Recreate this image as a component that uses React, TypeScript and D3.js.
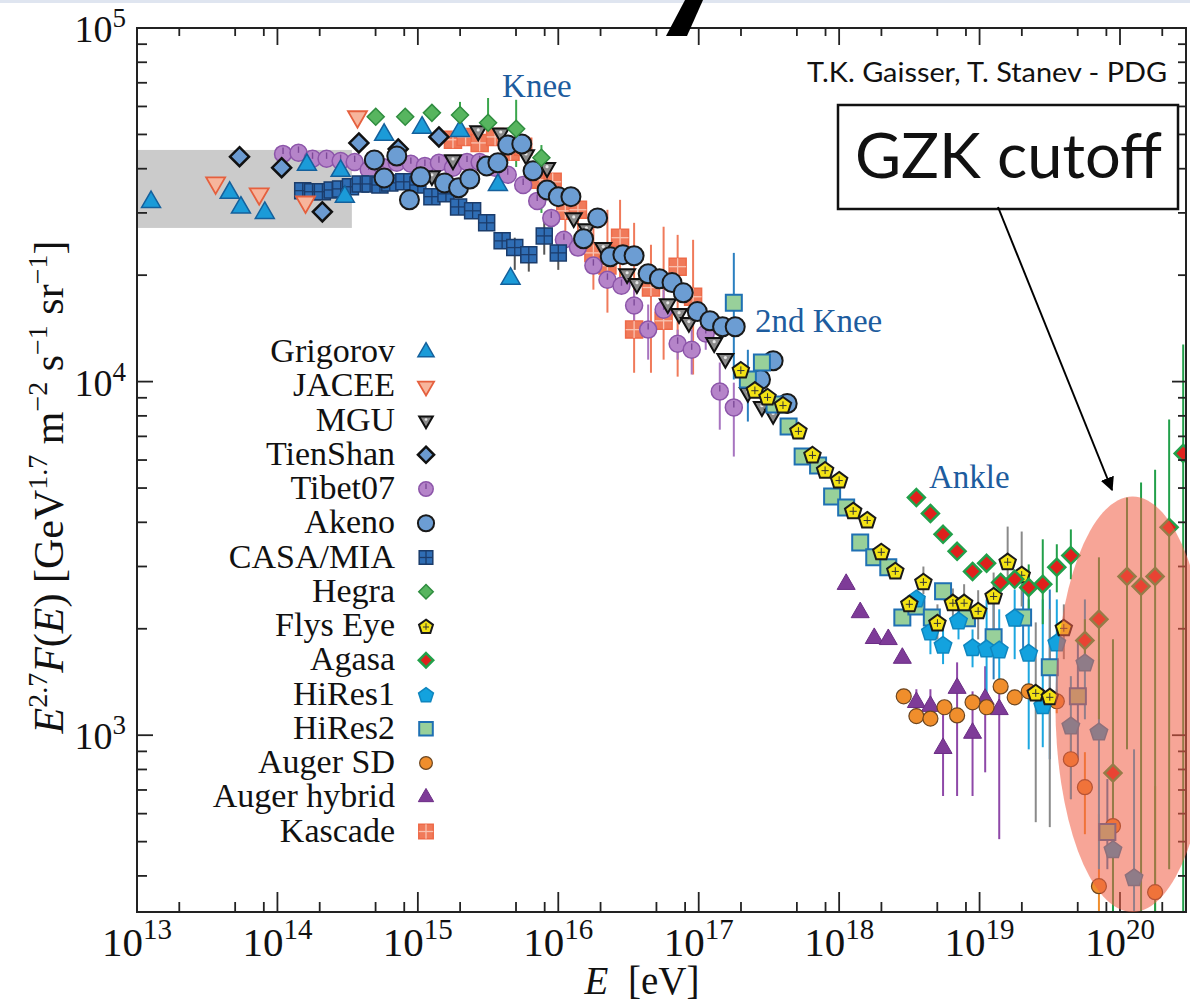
import React from 'react';
import * as d3 from 'd3';

// Each point: [log10(E / eV), log10(E^2.7 F), optional errLow, optional errHigh] (log10 values)
type Pt = number[];

const grigorov: Pt[] = [[13.10,4.508],[13.66,4.534],[13.74,4.492],[13.91,4.477],[14.21,4.613],[14.45,4.596],[14.48,4.523],[14.76,4.698],[15.03,4.718],[15.30,4.709],[15.57,4.556],[15.66,4.291]];
const jacee: Pt[] = [[13.56,4.562],[13.87,4.531],[14.20,4.508],[14.57,4.749]];
const mgu: Pt[] = [[15.10,4.582],[15.25,4.627],[15.43,4.709],[15.59,4.703],[15.77,4.641],[15.92,4.605],[16.11,4.463],[16.20,4.432],[16.32,4.379],[16.49,4.305],[16.56,4.277],[16.78,4.220],[16.86,4.192],[16.93,4.167],[17.11,4.110],[17.19,4.065],[17.35,3.969],[17.45,3.929],[17.53,3.907]];
const tienShan: Pt[] = [[13.73,4.636],[14.03,4.605],[14.32,4.480],[14.58,4.675],[14.86,4.658],[15.15,4.692]];
const tibet07: Pt[] = [[14.04,4.644],[14.15,4.647],[14.25,4.630],[14.35,4.630],[14.45,4.624],[14.55,4.621],[14.65,4.599],[14.75,4.607],[14.85,4.619],[14.95,4.616],[15.05,4.610],[15.15,4.619],[15.25,4.605],[15.35,4.621],[15.44,4.621],[15.55,4.605],[15.64,4.585],[15.75,4.556],[15.85,4.511],[15.95,4.463],[16.04,4.401],[16.14,4.379],[16.25,4.328],[16.35,4.288],[16.45,4.271],[16.54,4.215,4.161,4.260],[16.64,4.147,4.062,4.218],[16.75,4.203,4.147,4.260],[16.85,4.107,4.062,4.147],[16.95,4.090,4.020,4.147],[17.05,4.136,4.090,4.175],[17.15,3.972,3.864,4.054],[17.25,3.927,3.788,3.997]];
const akeno: Pt[] = [[14.69,4.627],[14.76,4.576],[14.85,4.638],[14.94,4.514],[15.02,4.579],[15.19,4.562],[15.29,4.548],[15.37,4.573],[15.49,4.610],[15.57,4.619],[15.64,4.669],[15.74,4.672],[15.82,4.596],[15.92,4.542],[16.00,4.523],[16.09,4.523],[16.18,4.404],[16.28,4.463],[16.37,4.353],[16.46,4.359],[16.54,4.356],[16.64,4.305],[16.72,4.291],[16.81,4.280],[16.89,4.251],[16.99,4.198],[17.08,4.172],[17.17,4.155],[17.26,4.155],[17.44,4.006],[17.53,4.059],[17.63,3.938]];
const casaMia: Pt[] = [[14.18,4.540],[14.25,4.537],[14.32,4.537],[14.39,4.542],[14.45,4.545],[14.52,4.551],[14.59,4.559],[14.66,4.559],[14.73,4.556],[14.80,4.562],[14.90,4.565],[15.00,4.556],[15.10,4.523],[15.20,4.531],[15.29,4.494],[15.39,4.483],[15.49,4.449],[15.60,4.398],[15.69,4.379,4.316,4.407],[15.79,4.359,4.311,4.381],[15.90,4.412,4.359,4.458],[16.00,4.364,4.316,4.387]];
const hegra: Pt[] = [[14.70,4.749],[14.91,4.749],[15.10,4.760],[15.30,4.754,4.720,4.791],[15.50,4.732,4.675,4.802],[15.70,4.715,4.607,4.797],[15.88,4.633,4.477,4.669]];
const flysEye: Pt[] = [[17.30,4.034],[17.40,3.977],[17.49,3.958],[17.60,3.935],[17.71,3.862],[17.81,3.794],[17.90,3.751],[18.00,3.723],[18.10,3.636],[18.20,3.610],[18.30,3.520],[18.40,3.466],[18.50,3.373],[18.60,3.435,3.399,3.477],[18.70,3.319,3.271,3.370],[18.81,3.376,3.330,3.415],[18.89,3.376,3.328,3.427],[18.99,3.353,3.271,3.410],[19.10,3.395,3.300,3.460],[19.20,3.492,3.449,3.590],[19.30,3.455,3.364,3.576],[19.40,3.121,2.754,3.319],[19.50,3.110,2.740,3.356],[19.60,3.305,3.215,3.370]];
const agasa: Pt[] = [[18.55,3.672],[18.65,3.627],[18.74,3.568],[18.84,3.520],[18.95,3.463],[19.05,3.486],[19.15,3.432],[19.25,3.441],[19.35,3.418,3.350,3.483],[19.45,3.427,3.314,3.554],[19.55,3.475,3.404,3.540],[19.65,3.508,3.441,3.582],[19.75,3.268,3.215,3.328],[19.85,3.328,3.045,3.503],[19.95,2.893,2.503,3.271],[20.05,3.449,2.960,3.672],[20.15,3.421,2.503,3.715],[20.25,3.449,2.503,3.751],[20.35,3.588,2.621,3.893],[20.45,3.797,2.503,4.105]];
const hiRes1: Pt[] = [[18.55,3.387],[18.65,3.294,3.229,3.342],[18.74,3.256,3.201,3.305],[18.85,3.325,3.271,3.384],[18.95,3.249,3.192,3.299],[19.05,3.246,3.102,3.384],[19.14,3.243,3.130,3.356],[19.25,3.333,3.215,3.412],[19.35,3.234,2.960,3.384],[19.45,3.085,2.966,3.384],[19.55,3.263,3.116,3.384],[19.65,3.028,2.819,3.167],[19.75,3.206,3.045,3.384],[19.85,3.011,2.621,3.215],[19.95,2.678,2.503,3.040],[20.10,2.599,2.503,2.960]];
const hiRes2: Pt[] = [[17.25,4.223,4.006,4.364],[17.35,4.006,3.887,4.090],[17.45,4.054],[17.54,3.935],[17.64,3.873],[17.74,3.788],[17.85,3.763],[17.95,3.675],[18.05,3.644],[18.15,3.545],[18.25,3.503],[18.35,3.475],[18.45,3.333],[18.55,3.364],[18.66,3.333],[18.74,3.407],[18.91,3.331],[19.10,3.277,3.158,3.384],[19.31,3.333,3.243,3.412],[19.50,3.192,2.932,3.412],[19.70,3.110,2.932,3.271],[19.91,2.726,2.621,2.876]];
const augerSD: Pt[] = [[18.46,3.110],[18.55,3.054],[18.65,3.047],[18.75,3.079],[18.84,3.056],[18.95,3.093],[19.05,3.079],[19.15,3.138],[19.25,3.107],[19.35,3.124],[19.55,3.096,3.062,3.130],[19.65,2.932,2.819,3.037],[19.75,2.853,2.720,2.952],[19.85,2.573,2.503,2.777],[19.95,2.743,2.650,2.820],[20.25,2.556,2.503,2.856]];
const augerHybrid: Pt[] = [[18.05,3.427],[18.15,3.347],[18.25,3.274],[18.35,3.271],[18.45,3.218],[18.55,3.093,3.054,3.130],[18.65,3.082,3.040,3.130],[18.74,2.963,2.828,3.079],[18.84,3.133,2.828,3.206],[18.95,3.006,2.828,3.124],[19.04,3.102,2.895,3.195],[19.14,3.073,2.706,3.138]];
const kascade: Pt[] = [[15.25,4.684],[15.34,4.692],[15.44,4.675],[15.55,4.692],[15.66,4.650],[15.75,4.664],[15.87,4.571],[15.96,4.565],[16.05,4.483,4.415,4.528],[16.14,4.486,4.373,4.542],[16.25,4.364,4.260,4.472],[16.35,4.328,4.195,4.486],[16.44,4.407,4.260,4.514],[16.54,4.147,4.025,4.449],[16.66,4.266,4.025,4.387],[16.75,4.172,4.062,4.438],[16.85,4.325,4.014,4.415],[16.96,4.240,4.020,4.401]];

const legendNames = ['Grigorov','JACEE','MGU','TienShan','Tibet07','Akeno','CASA/MIA','Hegra','Flys Eye','Agasa','HiRes1','HiRes2','Auger SD','Auger hybrid','Kascade'];
const drawOrder = ['Kascade','Tibet07','CASA/MIA','Grigorov','JACEE','MGU','TienShan','Akeno','Hegra','Auger hybrid','Auger SD','HiRes2','HiRes1','Flys Eye','Agasa'];

// grey band (log10 E range, flux range)
const bandE = [13, 14.53];
const bandF = [27200, 45200];
// GZK ellipse extent (log10 E, log10 flux)
const gzkE = [19.54, 20.64];
const gzkF = [2.5, 3.675];

const xMajorExps = [13,14,15,16,17,18,19,20];
const xMinorMults = [2,5,8];
const yMajorExps = [3,4,5];
const yMinorMults = [2,3,4,5,6,7,8,9];

const annotations = [
  { text: 'Knee', e: 15.60, f: 4.805 },
  { text: '2nd Knee', e: 17.40, f: 4.141 },
  { text: 'Ankle', e: 18.64, f: 3.698 },
];

const dataBy: Record<string, Pt[]> = {
  'Grigorov': grigorov, 'JACEE': jacee, 'MGU': mgu, 'TienShan': tienShan, 'Tibet07': tibet07,
  'Akeno': akeno, 'CASA/MIA': casaMia, 'Hegra': hegra, 'Flys Eye': flysEye, 'Agasa': agasa,
  'HiRes1': hiRes1, 'HiRes2': hiRes2, 'Auger SD': augerSD, 'Auger hybrid': augerHybrid, 'Kascade': kascade,
};

type Sty = { shape: string; size: number; fill: string; stroke: string; sw: number; deco?: string; decoColor?: string; bar?: string };
const styles: Record<string, Sty> = {
  'Grigorov': { shape: 'triUp', size: 19, fill: '#1b9bd8', stroke: '#14609c', sw: 1.5 },
  'JACEE': { shape: 'triDown', size: 19, fill: '#f7b59c', stroke: '#e5603e', sw: 1.8 },
  'MGU': { shape: 'triDown', size: 16, fill: '#8a8a8a', stroke: '#111', sw: 2, deco: 'dot' },
  'TienShan': { shape: 'diamond', size: 19, fill: '#6b9ad0', stroke: '#111', sw: 2.5 },
  'Tibet07': { shape: 'circle', size: 17, fill: '#b584c9', stroke: '#8c55a9', sw: 1.5, deco: 'tick', decoColor: '#7d4a98', bar: '#a774c0' },
  'Akeno': { shape: 'circle', size: 19, fill: '#6c9dd3', stroke: '#1a1a1a', sw: 2 },
  'CASA/MIA': { shape: 'square', size: 16, fill: '#2f6db4', stroke: '#1b3c6b', sw: 1.5, deco: 'grid', decoColor: '#1b3c6b', bar: '#555' },
  'Hegra': { shape: 'diamond', size: 17, fill: '#57b55f', stroke: '#2f8d3f', sw: 1.5, bar: '#3aa64c' },
  'Flys Eye': { shape: 'pentagon', size: 16, fill: '#f4e314', stroke: '#1a1a1a', sw: 2, deco: 'cross', decoColor: '#333', bar: '#8a8a8a' },
  'Agasa': { shape: 'diamond', size: 17, fill: '#e0201c', stroke: '#22a04a', sw: 2.5, bar: '#22a04a' },
  'HiRes1': { shape: 'pentagon', size: 17, fill: '#13a2de', stroke: '#0f86bf', sw: 1.5, bar: '#1ca7e0' },
  'HiRes2': { shape: 'square', size: 16, fill: '#98d09a', stroke: '#1f70b3', sw: 2, bar: '#2a7fc0' },
  'Auger SD': { shape: 'circle', size: 15, fill: '#f08e2c', stroke: '#6b4520', sw: 1.2, bar: '#f08e2c' },
  'Auger hybrid': { shape: 'triUp', size: 18, fill: '#7e3b98', stroke: '#6b2d85', sw: 1, bar: '#8e48a8' },
  'Kascade': { shape: 'square', size: 17, fill: '#f07a5a', stroke: '#ee6a48', sw: 1.5, deco: 'grid', decoColor: '#f9c2b0', bar: '#f07a5a' },
};

function shapePath(shape: string, s: number): string {
  const h = s * 0.866;
  const r = s / 2;
  switch (shape) {
    case 'triUp': return `M0,${-h * 2 / 3}L${r},${h / 3}L${-r},${h / 3}Z`;
    case 'triDown': return `M0,${h * 2 / 3}L${r},${-h / 3}L${-r},${-h / 3}Z`;
    case 'diamond': return `M0,${-r}L${r},0L0,${r}L${-r},0Z`;
    case 'square': return `M${-r},${-r}H${r}V${r}H${-r}Z`;
    case 'pentagon': {
      const pr = r * 1.08;
      const pts = d3.range(5).map(k => {
        const a = -Math.PI / 2 + k * 2 * Math.PI / 5;
        return [pr * Math.cos(a), pr * Math.sin(a) + 1];
      });
      return 'M' + pts.map(p => p[0].toFixed(2) + ',' + p[1].toFixed(2)).join('L') + 'Z';
    }
    default: {
      const p = d3.path();
      p.arc(0, 0, r, 0, Math.PI * 2);
      p.closePath();
      return p.toString();
    }
  }
}

function Marker({ name, cx, cy, scale = 1 }: { name: string; cx: number; cy: number; scale?: number }) {
  const st = styles[name];
  const s = st.size * scale;
  const r = s / 2;
  return (
    <g transform={`translate(${cx},${cy})`}>
      <path d={shapePath(st.shape, s)} fill={st.fill} stroke={st.stroke} strokeWidth={st.sw} strokeLinejoin="miter" />
      {st.deco === 'grid' && (
        <g stroke={st.decoColor} strokeWidth={1.3}>
          <line x1={-r} x2={r} y1={0} y2={0} />
          <line x1={0} x2={0} y1={-r} y2={r} />
        </g>
      )}
      {st.deco === 'tick' && <line x1={0} x2={0} y1={0} y2={-r * 0.75} stroke={st.decoColor} strokeWidth={1.4} />}
      {st.deco === 'dot' && <circle cx={0} cy={-1} r={1.6 * scale} fill="#e6e6e6" />}
      {st.deco === 'cross' && (
        <g stroke={st.decoColor} strokeWidth={1}>
          <line x1={-r * 0.45} x2={r * 0.45} y1={1} y2={1} />
          <line x1={0} x2={0} y1={-r * 0.4} y2={r * 0.55} />
        </g>
      )}
    </g>
  );
}

const SERIF = "'Liberation Serif', 'Times New Roman', serif";
const SANS = "Lato, 'Open Sans', sans-serif";

export default function App() {
  const W = 1190, H = 1002;
  const M = { left: 137, right: 1186, top: 28, bottom: 912 };
  const x = d3.scaleLog().domain([1e13, Math.pow(10, 20.47)]).range([M.left, M.right]);
  const y = d3.scaleLog().domain([Math.pow(10, 2.5), 1e5]).range([M.bottom, M.top]);
  const X = (e: number) => x(Math.pow(10, e));
  const Y = (f: number) => y(Math.pow(10, f));
  const [xMin, xMax] = x.domain();
  const [yMin, yMax] = y.domain();

  const xMinor: number[] = [];
  xMajorExps.forEach(e => xMinorMults.forEach(m => { const v = m * Math.pow(10, e); if (v >= xMin && v <= xMax) xMinor.push(v); }));
  const yMinor: number[] = [];
  [2, 3, 4].forEach(e => yMinorMults.forEach(m => { const v = m * Math.pow(10, e); if (v >= yMin && v <= yMax) yMinor.push(v); }));

  const axisColor = '#222';
  const ex0 = X(gzkE[0]), ex1 = X(gzkE[1]);
  const ey0 = Y(gzkF[1]), ey1 = Y(gzkF[0]);

  return (
    <svg width={W} height={H} viewBox={`0 0 ${W} ${H}`} style={{ position: 'absolute', left: 0, top: 0, background: '#fff' }}>
      <defs>
        <clipPath id="plotClip">
          <rect x={M.left} y={M.top} width={M.right - M.left} height={M.bottom - M.top} />
        </clipPath>
        <marker id="arrowHead" viewBox="0 0 10 10" refX="9" refY="5" markerWidth="7" markerHeight="7" orient="auto" markerUnits="strokeWidth">
          <path d="M0,0 L10,5 L0,10 Z" fill="#000" />
        </marker>
      </defs>
      <rect x={0} y={0} width={W} height={H} fill="#fff" />
      <rect x={0} y={0} width={W} height={3} fill="#dfe5f0" />

      {/* grey band */}
      <rect x={x(Math.pow(10, bandE[0]))} y={y(bandF[1])} width={x(Math.pow(10, bandE[1])) - x(Math.pow(10, bandE[0]))} height={y(bandF[0]) - y(bandF[1])} fill="#cbcbcb" />

      {/* data */}
      <g clipPath="url(#plotClip)">
        {drawOrder.map(name => {
          const st = styles[name];
          return (
            <g key={'bars-' + name} stroke={st.bar || st.stroke} strokeWidth={2}>
              {dataBy[name].filter(p => p.length >= 4).map((p, i) => (
                <line key={i} x1={X(p[0])} x2={X(p[0])} y1={Y(p[2])} y2={Y(p[3])} />
              ))}
            </g>
          );
        })}
        {drawOrder.map(name => (
          <g key={'pts-' + name}>
            {dataBy[name].map((p, i) => <Marker key={i} name={name} cx={X(p[0])} cy={Y(p[1])} />)}
          </g>
        ))}
      </g>

      {/* axes frame */}
      <rect x={M.left} y={M.top} width={M.right - M.left} height={M.bottom - M.top} fill="none" stroke={axisColor} strokeWidth={2} />
      <g stroke={axisColor} strokeWidth={1.8}>
        {xMajorExps.map(e => {
          const px = x(Math.pow(10, e));
          return (
            <g key={'xM' + e}>
              <line x1={px} x2={px} y1={M.bottom} y2={M.bottom - 20} />
              <line x1={px} x2={px} y1={M.top} y2={M.top + 17} />
            </g>
          );
        })}
        {xMinor.map((v, i) => (
          <g key={'xm' + i}>
            <line x1={x(v)} x2={x(v)} y1={M.bottom} y2={M.bottom - 10} />
            <line x1={x(v)} x2={x(v)} y1={M.top} y2={M.top + 8} />
          </g>
        ))}
        {yMajorExps.map(e => {
          const py = y(Math.pow(10, e));
          return (
            <g key={'yM' + e}>
              <line x1={M.left} x2={M.left + 16} y1={py} y2={py} />
              <line x1={M.right} x2={M.right - 14} y1={py} y2={py} />
            </g>
          );
        })}
        {yMinor.map((v, i) => (
          <g key={'ym' + i}>
            <line x1={M.left} x2={M.left + 10} y1={y(v)} y2={y(v)} />
            <line x1={M.right} x2={M.right - 8} y1={y(v)} y2={y(v)} />
          </g>
        ))}
      </g>

      {/* tick labels */}
      <g fontFamily={SERIF} fill="#111">
        {xMajorExps.map(e => (
          <text key={'xl' + e} x={x(Math.pow(10, e))} y={956} fontSize={41} textAnchor="middle">
            10<tspan dy={-17} fontSize={29}>{e}</tspan>
          </text>
        ))}
        {yMajorExps.map(e => (
          <text key={'yl' + e} x={126} y={y(Math.pow(10, e)) + 14} fontSize={38} textAnchor="end">
            10<tspan dy={-15} fontSize={27}>{e}</tspan>
          </text>
        ))}
      </g>

      {/* axis titles */}
      <text x={642} y={994} fontFamily={SERIF} fontSize={39} textAnchor="middle" fill="#111">
        <tspan fontStyle="italic">E</tspan>{'\u00a0\u00a0[eV]'}
      </text>
      <text transform="translate(63,487) rotate(-90)" fontFamily={SERIF} fontSize={42} textAnchor="middle" fill="#111">
        <tspan fontStyle="italic">E</tspan>
        <tspan dy={-16} fontSize={28}>2.7</tspan>
        <tspan dy={16} fontStyle="italic">F</tspan>
        <tspan>(</tspan><tspan fontStyle="italic">E</tspan><tspan>{')\u00a0[GeV'}</tspan>
        <tspan dy={-16} fontSize={28}>1.7</tspan>
        <tspan dy={16}>{'\u00a0m'}</tspan>
        <tspan dy={-16} fontSize={28}>{'\u22122'}</tspan>
        <tspan dy={16}>{'\u00a0s'}</tspan>
        <tspan dy={-16} fontSize={28}>{'\u22121'}</tspan>
        <tspan dy={16}>{'\u00a0sr'}</tspan>
        <tspan dy={-16} fontSize={28}>{'\u22121'}</tspan>
        <tspan dy={16}>]</tspan>
      </text>

      {/* legend */}
      <g fontFamily={SERIF} fontSize={34} fill="#111">
        {legendNames.map((name, i) => {
          const by = 362 + i * 34.25;
          return (
            <g key={'lg' + name}>
              <text x={395} y={by} textAnchor="end">{name}</text>
              <Marker name={name} cx={426} cy={by - 10} scale={0.85} />
            </g>
          );
        })}
      </g>

      {/* annotations */}
      <g fontFamily={SERIF} fontSize={33} fill="#1d5c9e">
        {annotations.map(a => (
          <text key={a.text} x={X(a.e)} y={Y(a.f)}>{a.text}</text>
        ))}
      </g>

      {/* credit */}
      <text x={807} y={82} fontFamily={SANS} fontSize={26} fill="#111" textLength={360} lengthAdjust="spacingAndGlyphs">T.K. Gaisser, T. Stanev - PDG</text>

      {/* GZK box and arrow */}
      <rect x={838} y={105} width={340} height={104} fill="#fff" stroke="#111" strokeWidth={2.5} />
      <text x={855} y={178} fontFamily={SANS} fontSize={62} fill="#111" textLength={307} lengthAdjust="spacingAndGlyphs">GZK cutoff</text>
      <line x1={998} y1={207} x2={1112} y2={490} stroke="#000" strokeWidth={2} markerEnd="url(#arrowHead)" />

      {/* GZK ellipse */}
      <ellipse cx={(ex0 + ex1) / 2} cy={(ey0 + ey1) / 2} rx={(ex1 - ex0) / 2} ry={(ey1 - ey0) / 2} fill="rgb(240,95,70)" fillOpacity={0.56} />

      {/* slide decoration */}
      <polygon points="685,0 703,0 687,36 666,36" fill="#000" />
    </svg>
  );
}
